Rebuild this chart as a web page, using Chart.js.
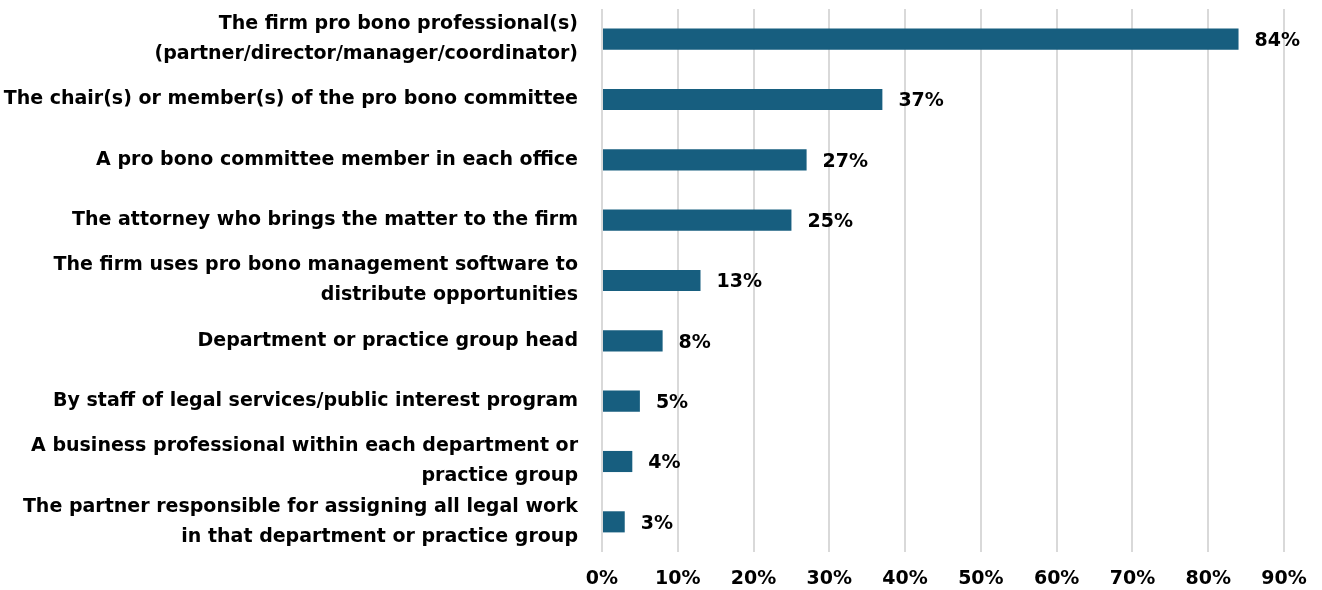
<!DOCTYPE html>
<html>
<head>
<meta charset="utf-8">
<script src="https://cdn.jsdelivr.net/npm/chart.js@4/dist/chart.umd.min.js"></script>
<style>
  html, body { margin: 0; padding: 0; background: #fff; }
  #wrap { width: 1322px; height: 590px; }
</style>
</head>
<body>
<div id="wrap"><canvas id="proBonoChart"></canvas></div>
<script>
// categories (multi-line labels split as arrays)
const categories = [
    ['The firm pro bono professional(s)', '(partner/director/manager/coordinator)'],
    'The chair(s) or member(s) of the pro bono committee',
    'A pro bono committee member in each office',
    'The attorney who brings the matter to the firm',
    ['The firm uses pro bono management software to', 'distribute opportunities'],
    'Department or practice group head',
    'By staff of legal services/public interest program',
    ['A business professional within each department or', 'practice group'],
    ['The partner responsible for assigning all legal work', 'in that department or practice group']
];
const shares = [84, 37, 27, 25, 13, 8, 5, 4, 3];
const tickValues = [0, 10, 20, 30, 40, 50, 60, 70, 80, 90];

const barColor = '#175E7F';
const fontFamily = '"DejaVu Sans", sans-serif';
const labelFont = { family: fontFamily, size: 19, weight: 'bold', lineHeight: 1.58 };

// draws the "84%" style labels at the end of each bar
const valueLabels = {
    id: 'valueLabels',
    afterDatasetsDraw(chart) {
        const ctx = chart.ctx;
        const meta = chart.getDatasetMeta(0);
        ctx.save();
        ctx.font = 'bold 19px ' + fontFamily;
        ctx.fillStyle = '#000';
        ctx.textAlign = 'left';
        ctx.textBaseline = 'middle';
        meta.data.forEach((bar, i) => {
            ctx.fillText(shares[i] + '%', bar.x + 16, bar.y + 2);
        });
        ctx.restore();
    }
};

const ctx = document.getElementById('proBonoChart').getContext('2d');
new Chart(ctx, {
    type: 'bar',
    data: {
        labels: categories,
        datasets: [{
            data: shares,
            backgroundColor: barColor,
            barPercentage: 0.35,
            categoryPercentage: 1
        }]
    },
    options: {
        indexAxis: 'y',
        responsive: true,
        maintainAspectRatio: false,
        animation: false,
        layout: { padding: { top: 9, right: 38, left: 0, bottom: 0 } },
        plugins: {
            legend: { display: false },
            tooltip: { enabled: false }
        },
        scales: {
            x: {
                min: 0,
                max: 90,
                afterBuildTicks(scale) {
                    scale.ticks = tickValues.map(v => ({ value: v }));
                },
                afterFit(scale) {
                    scale.height = 38;
                    scale.paddingLeft = 0;
                    scale.paddingRight = 0;
                },
                grid: { color: '#d9d9d9', lineWidth: 2, drawTicks: false },
                border: { display: false },
                ticks: {
                    padding: 16,
                    autoSkip: false,
                    maxRotation: 0,
                    color: '#000',
                    font: { family: fontFamily, size: 19, weight: 'bold' },
                    callback: v => v + '%'
                }
            },
            y: {
                afterFit(scale) {
                    scale.width = 602;
                    scale.paddingTop = 0;
                    scale.paddingBottom = 0;
                },
                grid: { display: false, drawTicks: false },
                border: { display: false },
                ticks: {
                    padding: 24,
                    autoSkip: false,
                    color: '#000',
                    font: labelFont
                }
            }
        }
    },
    plugins: [valueLabels]
});
</script>
</body>
</html>
